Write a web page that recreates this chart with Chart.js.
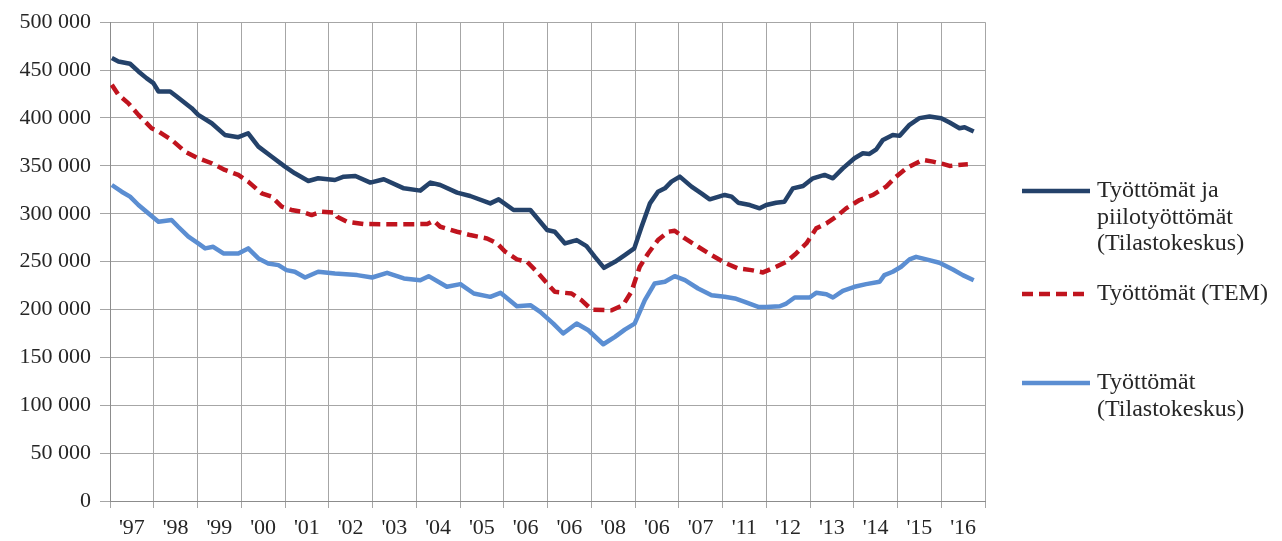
<!DOCTYPE html>
<html>
<head>
<meta charset="utf-8">
<script src="https://cdn.jsdelivr.net/npm/chart.js@4.4.1/dist/chart.umd.min.js"></script>
<style>
  html, body { margin: 0; padding: 0; background: #fff; }
  #wrap { width: 1282px; height: 541px; position: relative; }
</style>
</head>
<body>
<div id="wrap"><canvas id="myChart"></canvas></div>
<script>
// vuosien nimet x-akselilla (kuten alkuperäisessä kuvassa)
const yearLabels = ["'97", "'98", "'99", "'00", "'01", "'02", "'03", "'04", "'05", "'06",
                    "'06", "'08", "'06", "'07", "'11", "'12", "'13", "'14", "'15", "'16"];

const seriesNames = [
   ['Työttömät ja', 'piilotyöttömät', '(Tilastokeskus)'],
   ['Työttömät (TEM)'],
   ['Työttömät', '(Tilastokeskus)']
];

// kuukausi (0 = tammikuu 1997), arvot tuhansina
const darkMonths = [0.5, 2.3, 5.5, 7.8, 10, 11.9, 13.3, 16.5, 18.3, 22.4, 24.2, 27.9, 31.5, 35.2, 37.9, 40.7, 44.3, 48, 50.7, 54.4, 57.1, 61.7,
   64.1, 67.3, 71.4, 75.1, 80.6, 85.1, 87.9, 90.6, 95.2, 98.8, 104.3, 106.6, 110.7, 115.3, 119.9,
   122, 124.8, 128, 130.7, 133, 135.5, 138.5, 141.2, 143.8, 145.8, 148.1, 150.3, 152.2, 154, 156.3, 159.5, 162.2, 164.5, 168.6, 170.5, 172.3, 175.5, 178.2,
   180, 182.7, 185, 187.3, 190.1, 192.8, 196, 198.3, 201, 204.2, 206.5, 208.3, 210.2, 212, 214.7, 216.6, 219.3, 222, 224.8, 228, 230.3, 233, 234.4, 236.9];
const darkValues = [462.5, 459, 456.6, 448.6, 441.6, 436.4, 427.6, 427.6, 422.4, 410.2, 403.2, 394.5, 382.3, 379.9, 384, 370.1, 359.7, 349.2, 342.2, 334.2, 337, 335.2,
   338.7, 339.4, 332.5, 336, 326.5, 324.1, 332.5, 330, 322, 318.5, 310.8, 315, 303.9, 303.9, 283,
   281.2, 269, 272.5, 266.2, 255, 243.5, 249.8, 256.8, 263.8, 286.4, 310.8, 323, 326.5, 333.5, 338.7, 328.3, 321.3, 315, 319.6, 317.8, 311.5, 309.1, 305.6,
   309.1, 311.5, 312.6, 326.5, 329, 337, 340.5, 337, 347.4, 357.9, 363.1, 362.4, 367.3, 377.1, 382.3, 381.3, 392.8, 399.8, 401.5, 399.8, 395.2, 389.3, 390.3, 385.8];

const redMonths = [0.5, 2.3, 5, 7.8, 11.4, 13.3, 16.9, 20.6, 24.2, 27.9, 31.5, 35.2, 37.9, 41.6, 44.3, 47.1, 49.8, 52.6, 55.3, 58, 61.7,
   62.3, 65, 69.6, 76.9, 87, 88.8, 90.6, 95.2, 98.8, 103.4, 106.2, 108.4, 111.6, 114.4, 117.1, 119.9,
   122, 126.6, 129.3, 132.1, 137.6, 140.7, 143, 145.3, 147.6, 150.3, 153.1, 154.9, 157.7, 161.3, 165, 168.6, 172.3, 175.9, 179.1,
   182.7, 185.5, 188.2, 191, 193.7, 196.5, 199.2, 201.9, 205.6, 209.3, 212.9, 215.6, 218.4, 221.1, 223, 225.7, 228.4, 230.3, 232.6, 235.3];
const redValues = [434.6, 424.2, 415.5, 403.2, 389.3, 385.8, 377.1, 364.9, 357.9, 352.7, 345.7, 340.5, 333.5, 321.3, 317.8, 307.4, 303.9, 302.1, 298.6, 302.1, 301.1,
   296.9, 291.7, 289.2, 288.9, 289.2, 292.7, 286.4, 281.2, 277.7, 274.2, 269, 260.3, 252.3, 249.8, 239.4, 227.2,
   218.4, 216.7, 209.7, 199.9, 199.2, 204.5, 218.4, 244.6, 258.5, 272.5, 281.2, 282.2, 274.2, 265.5, 256.8, 248.8, 242.8, 241.1, 238.7,
   244.6, 249.8, 258.5, 269, 284.7, 289.9, 296.9, 305.6, 314.3, 319.6, 328.3, 338.7, 347.4, 352.7, 356.2, 354.4, 352, 349.9, 350.9, 351.6];

const lightMonths = [0.5, 3.2, 5.5, 7.8, 10.5, 13.3, 16.9, 18.7, 21.5, 24.2, 26.1, 28.3, 31.1, 35.2, 37.9, 40.7, 43.4, 46.2, 48.4, 50.7, 53.5, 57.1, 61.7,
   67.8, 71.9, 76, 80.6, 85.1, 87.4, 92.4, 96.1, 99.8, 104.3, 107.1, 111.6, 115.3, 118,
   121.6, 124.3, 128, 131.2, 135.3, 138.5, 141.2, 143.9, 146.7, 149.4, 152.2, 154.9, 157.7, 161.3, 165, 168.6, 171.4, 174.1, 177.8,
   180, 183.7, 185.5, 187.8, 191.9, 193.7, 196.5, 198.3, 201, 204.2, 207.4, 211.1, 212.4, 214.7, 217, 219.3, 221.1, 223.9, 227.5, 231.2, 233.9, 236.9];
const lightValues = [330, 323, 317.8, 309.1, 300.4, 291.7, 293.4, 286.4, 276, 269, 263.8, 265.5, 258.5, 258.5, 263.8, 253.3, 248.1, 246.3, 241.1, 239.4, 233.4, 239.4, 237.6,
   235.9, 233.4, 238.3, 232.4, 230.6, 234.8, 223.7, 226.5, 216.7, 213.2, 217.4, 203.4, 204.5, 197.5,
   185.3, 174.9, 185.3, 178.3, 163.7, 171.4, 179, 185.3, 209.7, 227.2, 228.9, 234.8, 230.6, 221.9, 214.9, 213.2, 211.5, 208, 202.7,
   202.7, 203.4, 206.2, 212.5, 212.5, 217.4, 216, 212.5, 219.5, 223.7, 226.5, 228.9, 235.9, 239.4, 244.6, 252.3, 255, 252.3, 248.8, 241.8, 235.9, 230.6];

const darkColor = '#24426a';
const redColor = '#c0141e';
const lightColor = '#5b8ed2';
const gridColor = '#a6a6a6';
const textColor = '#262626';
const fontFamily = '"Liberation Serif", "Times New Roman", serif';

const toPoints = (months, values) => months.map((m, i) => ({ x: m, y: values[i] * 1000 }));

// selite oikealla puolella
const sideLegend = {
   id: 'sideLegend',
   afterDraw(chart) {
      const ctx = chart.ctx;
      const rows = [191, 294, 383];
      ctx.save();
      ctx.font = '24px ' + fontFamily;
      ctx.fillStyle = textColor;
      ctx.textBaseline = 'middle';
      chart.data.datasets.forEach((ds, i) => {
         const y = rows[i];
         ctx.beginPath();
         ctx.lineWidth = 4.5;
         ctx.strokeStyle = ds.borderColor;
         ctx.setLineDash(ds.borderDash || []);
         ctx.moveTo(1022, y);
         ctx.lineTo(1090, y);
         ctx.stroke();
         seriesNames[i].forEach((t, j) => ctx.fillText(t, 1097, y + j * 26.5));
      });
      ctx.restore();
   }
};

let ctx = document.getElementById('myChart');
let myChart = new Chart(ctx, {
   type: 'line',
   data: {
      datasets: [
         {
            label: seriesNames[0].join(' '),
            data: toPoints(darkMonths, darkValues),
            borderColor: darkColor,
            borderWidth: 4.5
         },
         {
            label: seriesNames[1].join(' '),
            data: toPoints(redMonths, redValues),
            borderColor: redColor,
            borderWidth: 4.5,
            borderDash: [11, 6]
         },
         {
            label: seriesNames[2].join(' '),
            data: toPoints(lightMonths, lightValues),
            borderColor: lightColor,
            borderWidth: 4.5
         }
      ]
   },
   options: {
      responsive: true,
      maintainAspectRatio: false,
      animation: false,
      layout: { padding: { left: 0, right: 297, top: 22, bottom: 0 } },
      elements: {
         point: { radius: 0 },
         line: { tension: 0, borderJoinStyle: 'round', fill: false }
      },
      plugins: {
         legend: { display: false },
         tooltip: { enabled: false }
      },
      scales: {
         x: {
            type: 'linear',
            min: 0,
            max: 240,
            afterBuildTicks(scale) {
               const t = [];
               for (let v = 0; v <= 240; v += 6) t.push({ value: v });
               scale.ticks = t;
            },
            afterFit(scale) { scale.height = 40; },
            grid: {
               color: c => (c.tick && c.tick.value % 12 === 0) ? gridColor : 'rgba(0,0,0,0)',
               tickColor: c => (c.tick && c.tick.value % 12 === 0) ? gridColor : 'rgba(0,0,0,0)',
               tickLength: 7
            },
            border: { color: '#8c8c8c' },
            ticks: {
               autoSkip: false,
               maxRotation: 0,
               padding: 7,
               color: textColor,
               font: { family: fontFamily, size: 22 },
               callback: v => (v % 12 === 6) ? yearLabels[(v - 6) / 12] : ''
            }
         },
         y: {
            min: 0,
            max: 500000,
            afterFit(scale) { scale.width = 110; },
            grid: { color: gridColor, tickColor: gridColor, tickLength: 10 },
            border: { color: '#8c8c8c' },
            ticks: {
               stepSize: 50000,
               padding: 9,
               color: textColor,
               font: { family: fontFamily, size: 22 },
               callback: v => String(v).replace(/\B(?=(\d{3})+(?!\d))/g, ' ')
            }
         }
      }
   },
   plugins: [sideLegend]
});
</script>
</body>
</html>
